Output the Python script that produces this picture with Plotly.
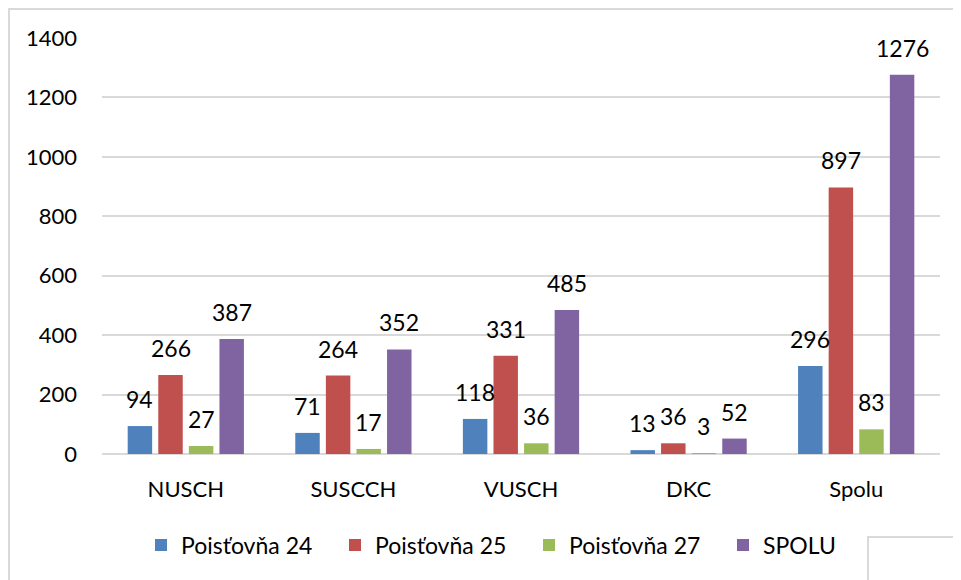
import plotly.graph_objects as go

categories = ["NUSCH", "SUSCCH", "VUSCH", "DKC", "Spolu"]
series_names = ["Poisťovňa 24", "Poisťovňa 25", "Poisťovňa 27", "SPOLU"]
p24 = [94, 71, 118, 13, 296]
p25 = [266, 264, 331, 36, 897]
p27 = [27, 17, 36, 3, 83]
spolu = [387, 352, 485, 52, 1276]
colors = ["#4f81bd", "#c0504d", "#9bbb59", "#8064a2"]
tick_vals = [0, 200, 400, 600, 800, 1000, 1200, 1400]

FONT = "Lato"
OFF = 8  # browser body margin
W, H = 961 - OFF, 580 - OFF
# plot area in image coordinates
X0, X1, Y0, Y1 = 102, 940, 38, 454
L, R, T, B = X0 - OFF, W - (X1 - OFF), Y0 - OFF, H - (Y1 - OFF)
pw, ph = W - L - R, H - T - B


def px(x):
    return (x - OFF - L) / pw


def py(y):
    return (H - B - (y - OFF)) / ph


bargap, bargroupgap = 0.27, 0.2
cat_w = pw / len(categories)
slot = cat_w * (1 - bargap) / len(series_names)

fig = go.Figure()
annotations = []
all_series = [p24, p25, p27, spolu]
for i, (name, vals, col) in enumerate(zip(series_names, all_series, colors)):
    fig.add_trace(go.Bar(
        name=name, x=categories, y=vals, marker_color=col,
        marker_line_width=0,
    ))
    xs = (i - (len(series_names) - 1) / 2) * slot
    for c, v in zip(categories, vals):
        annotations.append(dict(
            x=c, y=v, xref="x", yref="y", text=str(v), showarrow=False,
            xanchor="center", yanchor="bottom", xshift=xs, yshift=11,
            font=dict(family=FONT, size=23, color="#000000"),
        ))

fig.update_layout(
    width=W, height=H,
    margin=dict(l=L, r=R, t=T, b=B, autoexpand=False),
    paper_bgcolor="white", plot_bgcolor="white",
    barmode="group", bargap=bargap, bargroupgap=bargroupgap,
    font=dict(family=FONT, size=20, color="#000000"),
    showlegend=True,
    legend=dict(orientation="h", x=px(141), xanchor="left", y=py(545), yanchor="middle",
                font=dict(family=FONT, size=23), entrywidth=149, entrywidthmode="pixels",
                traceorder="normal", bgcolor="rgba(0,0,0,0)"),
    xaxis=dict(showgrid=False, showline=False, ticks="", ticklabelstandoff=20,
               tickfont=dict(family=FONT, size=22)),
    yaxis=dict(range=[0, 1400], tickvals=tick_vals, showgrid=True, gridcolor="#d9d9d9",
               gridwidth=1.5, zeroline=True, zerolinecolor="#d9d9d9", zerolinewidth=1.5,
               showline=False, ticks="", ticklabelstandoff=24,
               tickfont=dict(family=FONT, size=22)),
    annotations=annotations,
    shapes=[
        dict(type="rect", xref="paper", yref="paper", x0=px(OFF + 1), y0=py(620), x1=px(1000), y1=py(OFF + 1),
             line=dict(color="#d9d9d9", width=2), fillcolor="rgba(0,0,0,0)", layer="below"),
        dict(type="rect", xref="paper", yref="paper", x0=px(868), y0=py(620), x1=px(1000), y1=py(537),
             line=dict(color="#d9d9d9", width=2), fillcolor="rgba(0,0,0,0)", layer="below"),
    ],
)

fig.write_html("out.html")
